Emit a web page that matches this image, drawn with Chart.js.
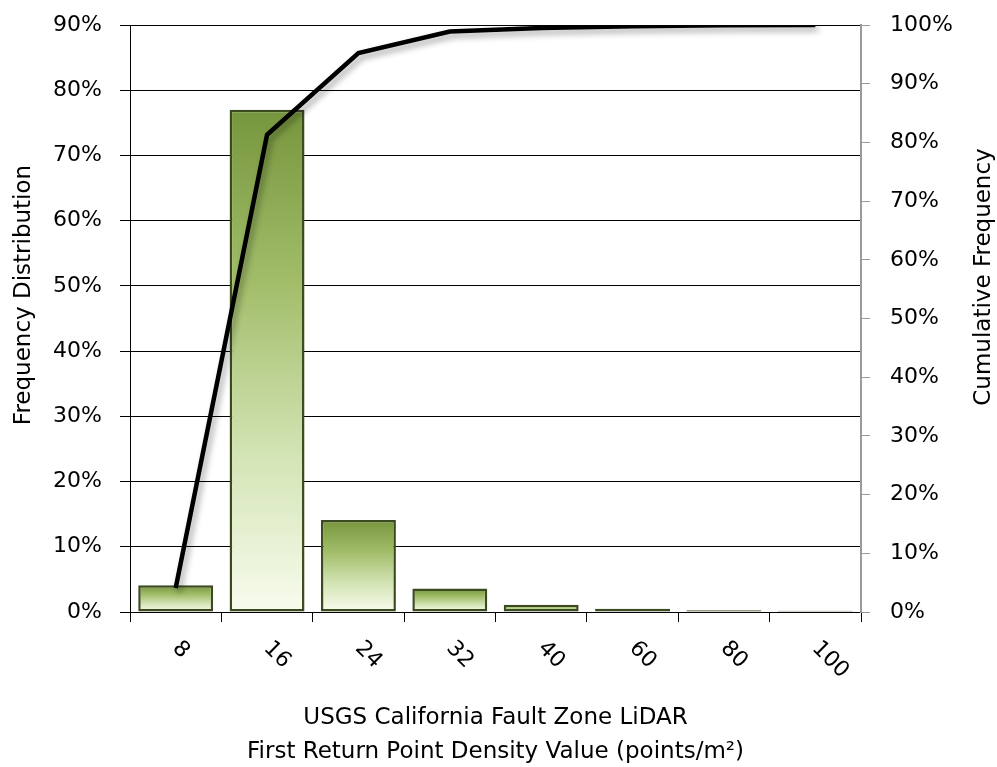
<!DOCTYPE html>
<html>
<head>
<meta charset="utf-8">
<script src="https://cdn.jsdelivr.net/npm/chart.js@4.4.1/dist/chart.umd.min.js"></script>
<style>
    html, body { margin: 0; padding: 0; background: #fff; }
    #wrap { width: 997px; height: 767px; }
</style>
</head>
<body>
<div id="wrap"><canvas id="pareto"></canvas></div>
<script>
    var densityLabels = ['8', '16', '24', '32', '40', '60', '80', '100'];
    var frequencyPct = [4.1, 77.0, 14.1, 3.6, 1.1, 0.5, 0.25, 0.2];
    var cumulativePct = [4.1, 81.3, 95.2, 98.9, 99.5, 99.8, 99.95, 100];
    var leftTicks = { min: 0, max: 90, step: 10 };
    var rightTicks = { min: 0, max: 100, step: 10 };
    var xTitle = ['USGS California Fault Zone LiDAR', 'First Return Point Density Value (points/m\u00b2)'];
    var leftTitle = 'Frequency Distribution';
    var rightTitle = 'Cumulative Frequency';

    var fontFamily = "'DejaVu Sans', sans-serif";
    Chart.defaults.font.family = fontFamily;
    Chart.defaults.color = '#000';

    function pct(v) {
        return v + '%';
    }

    // fixed box sizes so the plot area lands where the original one is
    function fixBox(w, h) {
        return function (scale) {
            if (w) scale.width = w;
            if (h) scale.height = h;
            scale.paddingTop = 0;
            scale.paddingBottom = 0;
            scale.paddingLeft = 0;
            scale.paddingRight = 0;
        };
    }

    // green bars, dark at the top fading to almost white at the base
    function barFill(context) {
        var chart = context.chart;
        if (!chart.chartArea || !chart.scales.y) {
            return '#9ab563';
        }
        var yScale = chart.scales.y;
        var top = yScale.getPixelForValue(context.raw);
        var base = yScale.getPixelForValue(0);
        if (!isFinite(top) || base - top < 1) {
            return '#7b9a43';
        }
        var g = chart.ctx.createLinearGradient(0, top, 0, base);
        g.addColorStop(0, '#76963d');
        g.addColorStop(0.35, '#a2be6b');
        g.addColorStop(0.7, '#d5e5b7');
        g.addColorStop(1, '#f8fcee');
        return g;
    }

    var lineShadow = {
        id: 'lineShadow',
        beforeDatasetDraw: function (chart, args) {
            if (args.index !== 1) return;
            var ctx = chart.ctx;
            ctx.save();
            ctx.shadowColor = 'rgba(0,0,0,0.35)';
            ctx.shadowBlur = 6;
            ctx.shadowOffsetX = 3;
            ctx.shadowOffsetY = 4;
        },
        afterDatasetDraw: function (chart, args) {
            if (args.index !== 1) return;
            chart.ctx.restore();
        }
    };

    // slanted category labels and the two vertical axis titles
    var extraText = {
        id: 'extraText',
        afterDraw: function (chart) {
            var ctx = chart.ctx,
                xScale = chart.scales.x;
            ctx.save();
            ctx.fillStyle = '#000';
            ctx.font = '22px ' + fontFamily;
            ctx.textAlign = 'left';
            ctx.textBaseline = 'middle';
            densityLabels.forEach(function (lbl, i) {
                ctx.save();
                ctx.translate(xScale.getPixelForValue(i), 645);
                ctx.rotate(Math.PI / 4);
                ctx.fillText(lbl, 0, 0);
                ctx.restore();
            });

            ctx.font = '23px ' + fontFamily;
            ctx.textAlign = 'center';
            ctx.save();
            ctx.translate(24, 295);
            ctx.rotate(-Math.PI / 2);
            ctx.fillText(leftTitle, 0, 0);
            ctx.restore();

            ctx.save();
            ctx.translate(984, 277);
            ctx.rotate(-Math.PI / 2);
            ctx.fillText(rightTitle, 0, 0);
            ctx.restore();
            ctx.restore();
        }
    };

    var ctx = document.getElementById('pareto').getContext('2d');
    new Chart(ctx, {
        type: 'bar',
        data: {
            labels: densityLabels,
            datasets: [
                {
                    type: 'bar',
                    label: 'Frequency Distribution',
                    data: frequencyPct,
                    yAxisID: 'y',
                    backgroundColor: barFill,
                    borderColor: '#3c4a20',
                    borderWidth: 2.5,
                    borderSkipped: false,
                    categoryPercentage: 1,
                    barPercentage: 0.82,
                    order: 1
                },
                {
                    type: 'line',
                    label: 'Cumulative Frequency',
                    data: cumulativePct,
                    yAxisID: 'y2',
                    borderColor: '#000',
                    borderWidth: 4.5,
                    pointRadius: 0,
                    tension: 0,
                    fill: false,
                    order: 0
                }
            ]
        },
        options: {
            responsive: true,
            maintainAspectRatio: false,
            animation: false,
            layout: { padding: { top: 25, right: 0, bottom: 0, left: 0 } },
            plugins: {
                legend: { display: false },
                tooltip: { enabled: false }
            },
            scales: {
                x: {
                    offset: true,
                    grid: {
                        offset: true,
                        drawOnChartArea: false,
                        drawTicks: true,
                        tickLength: 10,
                        color: '#000',
                        lineWidth: 1
                    },
                    border: { display: true, color: '#000', width: 1 },
                    ticks: { display: false },
                    title: {
                        display: true,
                        text: xTitle,
                        font: { size: 23, lineHeight: '34px' },
                        color: '#000',
                        padding: { top: 0, bottom: -2 }
                    },
                    afterFit: fixBox(0, 155)
                },
                y: {
                    position: 'left',
                    min: leftTicks.min,
                    max: leftTicks.max,
                    ticks: {
                        stepSize: leftTicks.step,
                        callback: pct,
                        font: { size: 22 },
                        color: '#000',
                        padding: 18
                    },
                    grid: {
                        color: '#000',
                        lineWidth: 1,
                        tickLength: 10
                    },
                    border: { display: true, color: '#000', width: 1 },
                    afterFit: fixBox(130, 0)
                },
                y2: {
                    position: 'right',
                    min: rightTicks.min,
                    max: rightTicks.max,
                    ticks: {
                        stepSize: rightTicks.step,
                        callback: pct,
                        font: { size: 22 },
                        color: '#000',
                        padding: 20
                    },
                    grid: {
                        drawOnChartArea: false,
                        color: '#9a9a9a',
                        tickLength: 9
                    },
                    border: { display: true, color: '#9a9a9a', width: 2 },
                    afterFit: fixBox(136, 0)
                }
            }
        },
        plugins: [lineShadow, extraText]
    });
</script>
</body>
</html>
